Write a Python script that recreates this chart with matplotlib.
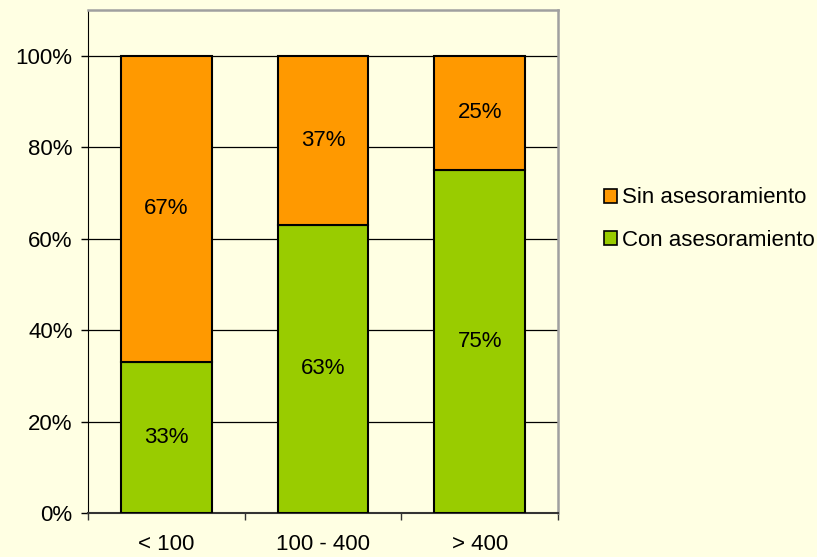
import matplotlib
matplotlib.use("Agg")
import matplotlib.pyplot as plt
from matplotlib.patches import Patch
from matplotlib.ticker import FixedLocator, NullFormatter

categories = ["< 100", "100 - 400", "> 400"]
con_asesoramiento = [0.33, 0.63, 0.75]
sin_asesoramiento = [0.67, 0.37, 0.25]
con_labels = ["33%", "63%", "75%"]
sin_labels = ["67%", "37%", "25%"]
y_ticks = [0, 0.2, 0.4, 0.6, 0.8, 1.0]
y_tick_labels = ["0%", "20%", "40%", "60%", "80%", "100%"]

plt.rcParams['font.family'] = ['Liberation Sans', 'DejaVu Sans']
bg = "#FFFFE3"
green = "#99CC00"
orange = "#FF9900"
fs = 16

fig = plt.figure(figsize=(8.17, 5.57), dpi=100, facecolor=bg)
ax = fig.add_axes([88/817, 44/557, 470/817, 503/557])
ax.set_facecolor(bg)

x = list(range(len(categories)))
w = 0.58
ax.bar(x, con_asesoramiento, width=w, color=green, edgecolor="black", linewidth=1.5, zorder=3)
ax.bar(x, sin_asesoramiento, width=w, bottom=con_asesoramiento, color=orange,
       edgecolor="black", linewidth=1.5, zorder=3)

for i in x:
    ax.text(i, con_asesoramiento[i] / 2, con_labels[i], ha="center", va="center", fontsize=fs, zorder=4)
    ax.text(i, con_asesoramiento[i] + sin_asesoramiento[i] / 2, sin_labels[i], ha="center",
            va="center", fontsize=fs, zorder=4)

ax.set_xlim(-0.5, len(categories) - 0.5)
ax.set_ylim(0, 1.1)
ax.set_yticks(y_ticks)
ax.set_yticklabels(y_tick_labels, fontsize=fs)
ax.yaxis.grid(True, color="black", linewidth=0.9, zorder=0)
ax.set_axisbelow(True)

ax.xaxis.set_major_locator(FixedLocator([i - 0.5 for i in range(len(categories) + 1)]))
ax.xaxis.set_major_formatter(NullFormatter())
ax.xaxis.set_minor_locator(FixedLocator(x))
ax.set_xticklabels(categories, minor=True, fontsize=fs)
ax.tick_params(axis="x", which="minor", length=0, pad=15)
ax.tick_params(axis="x", which="major", length=5, width=1, direction="out", color="#333333")
ax.tick_params(axis="y", length=5, width=1, direction="out", pad=6)

ax.spines["left"].set_color("black")
ax.spines["bottom"].set_color("#333333")
ax.spines["bottom"].set_linewidth(1.5)
ax.spines["top"].set_color("#A0A0A0")
ax.spines["right"].set_color("#A0A0A0")
ax.spines["top"].set_linewidth(1.8)
ax.spines["right"].set_linewidth(1.8)

handles = [Patch(facecolor=orange, edgecolor="black", linewidth=1.2, label="Sin asesoramiento"),
           Patch(facecolor=green, edgecolor="black", linewidth=1.2, label="Con asesoramiento")]
fig.legend(handles=handles, loc="center left", bbox_to_anchor=(593/817, 1 - 219/557),
           frameon=False, fontsize=fs, handlelength=0.6, handleheight=0.6,
           handletextpad=0.2, labelspacing=0.95, borderpad=0)

fig.savefig("out.png", dpi=100, facecolor=bg)
